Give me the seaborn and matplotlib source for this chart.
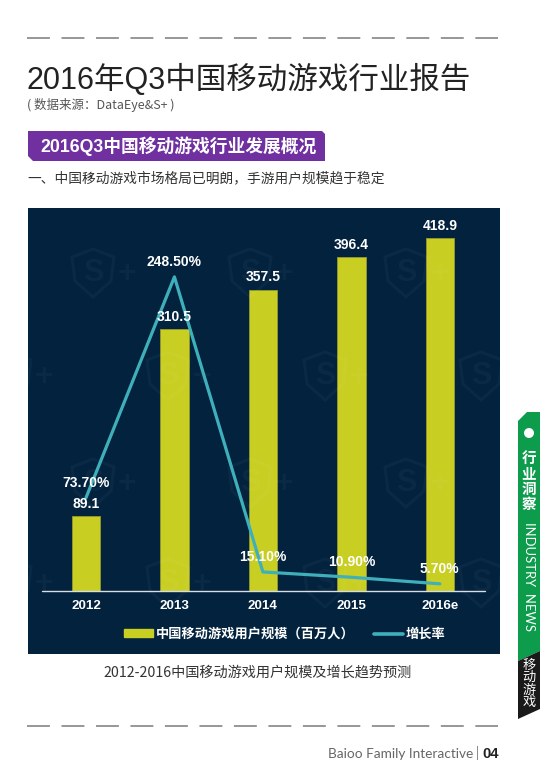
import numpy as np
import pandas as pd
import seaborn as sns
import matplotlib.pyplot as plt
from matplotlib.patches import Polygon, Circle, Rectangle
from matplotlib.lines import Line2D

years = ["2012", "2013", "2014", "2015", "2016e"]
users = [89.1, 310.5, 357.5, 396.4, 418.9]
growth = [73.7, 248.5, 15.1, 10.9, 5.7]
growth_labels = ["73.70%", "248.50%", "15.10%", "10.90%", "5.70%"]
user_name = "中国移动游戏用户规模（百万人）"
growth_name = "增长率"

W, H = 540, 779
FONT = ["Noto Sans CJK SC", "DejaVu Sans"]
LATIN = ["Liberation Sans", "Noto Sans CJK SC"]
NAVY = "#02223e"
LIME = "#c9cf22"
TEAL = "#3fb0bb"

sns.set_theme(style="white")
plt.rcParams["font.family"] = FONT

df = pd.DataFrame({"year": years, "users": users, "growth": growth})

fig = plt.figure(figsize=(W / 100, H / 100), dpi=100, facecolor="white")

# page layer in pixel coords
page = fig.add_axes([0, 0, 1, 1])
page.set_xlim(0, W)
page.set_ylim(H, 0)
page.axis("off")

# dashes top and bottom
for y0 in (38, 726):
    page.plot([27, 498], [y0, y0], color="#8f8f8f", lw=1.3, dashes=(12.7, 6.4),
              dash_capstyle="butt")

page.text(27, 80, "2016年Q3中国移动游戏行业报告", fontsize=22, color="#222222",
          va="center", family=LATIN)
page.text(27, 105, "( 数据来源：DataEye&S+ )", fontsize=9, color="#555555", va="center")

page.add_patch(Polygon([(28, 131), (322, 131), (325, 134), (325, 161), (33, 161), (28, 156)],
                       closed=True, color="#7030a0", lw=0))
page.text(40, 146, "2016Q3中国移动游戏行业发展概况", fontsize=12.8, color="white",
          va="center", fontweight="bold", family=LATIN)
page.text(27, 178, "一、中国移动游戏市场格局已明朗，手游用户规模趋于稳定", fontsize=9.9,
          color="#333333", va="center")

# side tab
page.add_patch(Polygon([(518, 421), (527, 412), (540, 412), (540, 651), (518, 661)],
                       closed=True, color="#0d9b4c", lw=0))
page.add_patch(Polygon([(518, 661), (540, 651), (540, 709), (518, 719)],
                       closed=True, color="#1a1a1a", lw=0))
page.add_patch(Circle((529, 433), 5, color="white", lw=0))
page.text(529, 481, "行\n业\n洞\n察", color="white", fontsize=10.5, fontweight="bold",
          ha="center", va="center", linespacing=0.95)
page.text(529, 576, "INDUSTRY  NEWS", rotation=-90, color="white", fontsize=9.4,
          ha="center", va="center", family="Lato")
page.text(529, 684, "移\n动\n游\n戏", color="white", fontsize=9.5,
          ha="center", va="center", linespacing=0.95)

page.text(473, 754, "Baioo Family Interactive", color="#666666", fontsize=9.8, ha="right",
          va="center", family="Lato")
page.text(477, 753, "|", color="#666666", fontsize=9, ha="center", va="center")
page.text(482, 754, "04", color="#222222", fontsize=10.5, ha="left", va="center",
          fontweight="bold", family="Liberation Sans")
page.text(258, 673, "2012-2016中国移动游戏用户规模及增长趋势预测", fontsize=10.2,
          color="#333333", ha="center", va="center")

# chart panel
left, right, top, bottom = 28, 500, 208, 654
ax = fig.add_axes([left / W, 1 - bottom / H, (right - left) / W, (bottom - top) / H])
ax.set_facecolor(NAVY)
ax.set_xticks([])
ax.set_yticks([])
sns.despine(ax=ax, left=True, bottom=True)

bars = fig.add_axes(ax.get_position(), zorder=2)
bars.patch.set_alpha(0)
sns.barplot(data=df, x="year", y="users", color=LIME, width=0.32, saturation=1,
            edgecolor="#8f9430", linewidth=0.7, ax=bars)
bars.set_xlim(-0.655, 4.68)
bars.set_ylim(-74.8, 454.5)
bars.set_xlabel("")
bars.set_ylabel("")
bars.set_yticks([])
sns.despine(ax=bars, left=True, bottom=True)
bars.spines["bottom"].set_position(("data", 0))
bars.set_xticks(range(5))
bars.set_xticklabels(years, family=LATIN, fontweight="bold", color="white", fontsize=9.6)
bars.tick_params(axis="x", length=0, pad=6.5)
bars.axhline(0, xmin=14 / 472, xmax=457 / 472, color="#d8dde2", lw=1)

# faint S+ watermark in pixel coords
mark = fig.add_axes(ax.get_position(), zorder=3)
mark.set_xlim(left, right)
mark.set_ylim(bottom, top)
mark.axis("off")
wm = dict(color="white", alpha=0.035, fontweight="bold", ha="center", va="center",
          family="Liberation Sans", clip_on=True)
for wx, wy in [(93, 273), (250, 273), (406, 273), (10, 376), (168, 376), (325, 376), (481, 376),
               (93, 483), (250, 483), (406, 483), (10, 583), (168, 583), (325, 583), (481, 583)]:
    shield = [(wx - 21, wy - 16), (wx, wy - 24), (wx + 21, wy - 16), (wx + 18, wy + 8),
              (wx, wy + 24), (wx - 18, wy + 8)]
    mark.add_patch(Polygon(shield, closed=True, fill=False, ec="white", alpha=0.035, lw=2.2))
    mark.text(wx, wy, "S", fontsize=22, **wm)
    mark.text(wx + 34, wy + 1, "+", fontsize=23, **wm)

rate = bars.twinx()
rate.set_zorder(4)
rate.set_ylim(-49.8, 303)
rate.patch.set_alpha(0)
sns.lineplot(data=df, x="year", y="growth", color=TEAL, lw=2.3, ax=rate, errorbar=None,
             solid_capstyle="round")
rate.set_ylabel("")
rate.set_yticks([])
sns.despine(ax=rate, left=True, bottom=True, right=True)

label_style = dict(color="white", fontsize=10, fontweight="bold", ha="center", va="center",
                   family=LATIN, zorder=6)
for i, v in enumerate(users):
    rate.text(i, v + 14.6, f"{v:.1f}", transform=bars.transData, **label_style)
for i, (v, s) in enumerate(zip(growth, growth_labels)):
    rate.text(i, v + 12, s, **label_style)

handles = [Rectangle((0, 0), 1, 1, color=LIME), Line2D([0], [0], color=TEAL, lw=2.6)]
legend = rate.legend(handles, [user_name, growth_name], loc="center", frameon=False, ncol=2,
                     bbox_to_anchor=(0.544, 20 / 446), fontsize=9.5, labelcolor="white",
                     handlelength=2.2, handleheight=0.55, handletextpad=0.25, columnspacing=1.4)
for t in legend.get_texts():
    t.set_fontweight("bold")

fig.savefig("out.png", dpi=100, facecolor="white")
